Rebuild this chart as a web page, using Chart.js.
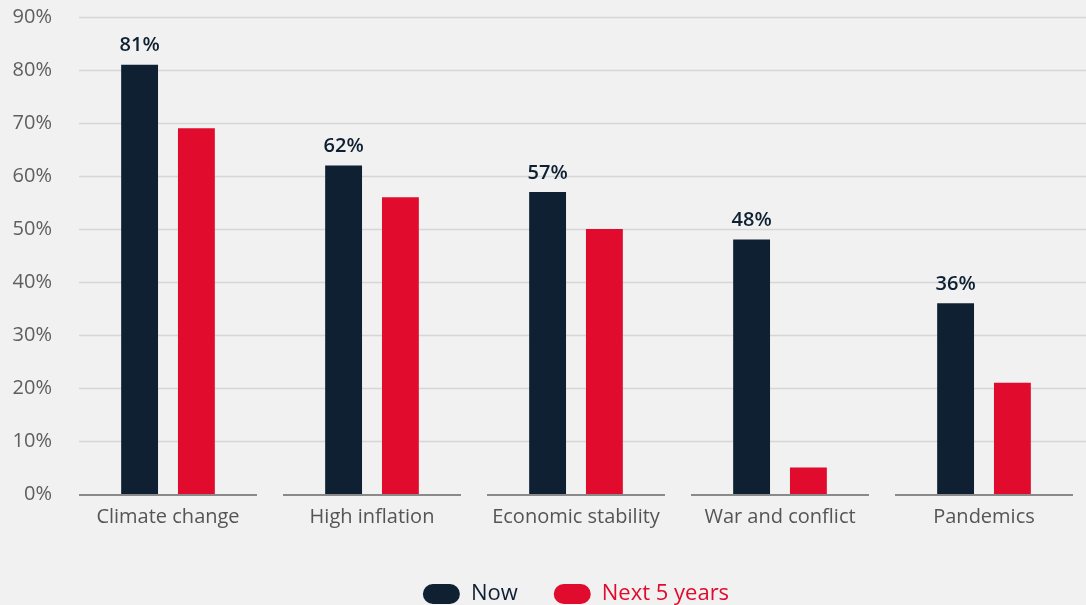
<!DOCTYPE html>
<html>
<head>
<meta charset="utf-8">
<script src="https://cdn.jsdelivr.net/npm/chart.js@4.4.0/dist/chart.umd.min.js"></script>
<style>
  html, body { margin: 0; padding: 0; background: #f1f1f1; overflow: hidden; }
  #wrap { width: 1086px; height: 605px; }
</style>
</head>
<body>
<div id="wrap"><canvas id="chart" width="1086" height="605"></canvas></div>
<script>
const categories = ['Climate change', 'High inflation', 'Economic stability', 'War and conflict', 'Pandemics'];
const nowValues = [81, 62, 57, 48, 36];
const nextValues = [69, 56, 50, 5, 21];
const seriesNames = ['Now', 'Next 5 years'];

const NAVY = '#0f2033';
const RED = '#e00b2d';
const FONT = "'Open Sans', sans-serif";

// horizontal gridlines, starting a bit right of the axis
const gridPlugin = {
  id: 'grid',
  beforeDatasetsDraw(chart) {
    const { ctx, chartArea, scales: { y } } = chart;
    ctx.save();
    ctx.strokeStyle = '#d6d6d6';
    ctx.lineWidth = 1.5;
    y.ticks.forEach(t => {
      if (t.value === 0) return;
      const py = Math.round(y.getPixelForValue(t.value)) + 0.5;
      ctx.beginPath();
      ctx.moveTo(79, py);
      ctx.lineTo(chartArea.right, py);
      ctx.stroke();
    });
    ctx.restore();
  },
  afterDatasetsDraw(chart) {
    // baseline segment under each category
    const { ctx, scales: { x, y } } = chart;
    const half = x.width / categories.length / 2 - 13;
    const py = y.getPixelForValue(0) + 1;
    ctx.save();
    ctx.strokeStyle = '#8a8a8a';
    ctx.lineWidth = 2;
    categories.forEach((c, i) => {
      const cx = x.getPixelForValue(i);
      ctx.beginPath();
      ctx.moveTo(cx - half, py);
      ctx.lineTo(cx + half, py);
      ctx.stroke();
    });
    // value labels on the "Now" bars
    const meta = chart.getDatasetMeta(0);
    ctx.fillStyle = NAVY;
    ctx.font = "600 20px " + FONT;
    ctx.textAlign = 'center';
    ctx.textBaseline = 'bottom';
    meta.data.forEach((bar, i) => {
      ctx.fillText(nowValues[i] + '%', bar.x, bar.y - 9);
    });
    ctx.restore();
  }
};

new Chart(document.getElementById('chart'), {
  type: 'bar',
  data: {
    labels: categories,
    datasets: [
      { label: seriesNames[0], data: nowValues, backgroundColor: NAVY },
      { label: seriesNames[1], data: nextValues, backgroundColor: RED }
    ]
  },
  options: {
    responsive: false,
    animation: false,
    categoryPercentage: 0.557,
    barPercentage: 0.649,
    layout: { padding: { top: 17, right: 0, left: 0, bottom: -10 } },
    scales: {
      x: {
        grid: { display: false },
        border: { display: false },
        afterFit(scale) { scale.height += 15; },
        ticks: { color: '#555', font: { family: FONT, size: 20 }, padding: 3 }
      },
      y: {
        min: 0,
        max: 90,
        grid: { display: false },
        border: { display: false },
        afterFit(scale) {
          scale.width = 66;
          scale.paddingTop = 0;
          scale.paddingBottom = 0;
        },
        ticks: {
          stepSize: 10,
          color: '#5e5e5e',
          padding: 6,
          font: { family: FONT, size: 20 },
          callback: v => v + '%'
        }
      }
    },
    plugins: {
      tooltip: { enabled: false },
      legend: {
        position: 'bottom',
        fullSize: false,
        labels: {
          boxWidth: 37,
          boxHeight: 20,
          useBorderRadius: true,
          borderRadius: 10,
          padding: 36,
          font: { family: FONT, size: 22 },
          generateLabels(chart) {
            return chart.data.datasets.map((ds, i) => ({
              text: ds.label,
              fillStyle: ds.backgroundColor,
              strokeStyle: ds.backgroundColor,
              lineWidth: 0,
              fontColor: ds.backgroundColor,
              borderRadius: 10,
              datasetIndex: i,
              hidden: false
            }));
          }
        }
      }
    }
  },
  plugins: [gridPlugin]
});
</script>
</body>
</html>
